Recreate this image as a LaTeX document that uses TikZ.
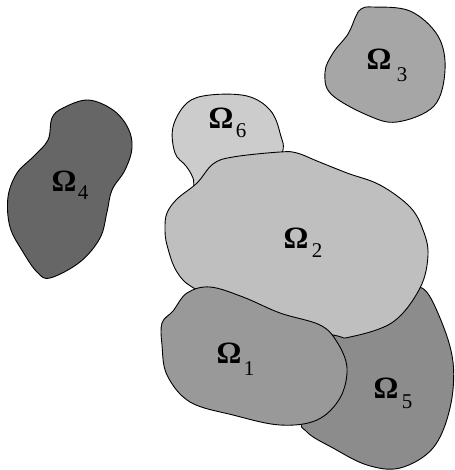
\documentclass[tikz,border=0pt]{standalone}
\usepackage{fontspec}
\setmainfont{Liberation Serif}
\begin{document}
\begin{tikzpicture}[x=1pt,y=-1pt,
  region/.style={draw=black,line width=0.9pt,line join=round},
  om/.style={anchor=base,inner sep=0pt,font=\fontsize{31}{31}\selectfont\bfseries},
  sub/.style={anchor=base,inner sep=0pt,font=\fontsize{21}{21}\selectfont}]
\useasboundingbox (0,0) rectangle (454,470);
% Omega 3
\filldraw[region,fill={rgb,255:red,166;green,166;blue,166}] plot[smooth cycle,tension=0.6] coordinates{
 (372,7) (410,11) (438,36) (445,70) (434,106) (397,122) (367,115) (331,94) (325,72) (333,53) (348,34) (356,16) (361,9)};
% Omega 4
\filldraw[region,fill={rgb,255:red,102;green,102;blue,102}] plot[smooth cycle,tension=0.6] coordinates{
 (88,100) (113,110) (128,128) (132,148) (125,170) (112,190) (107,212) (100,238) (80,262) (50,278) (37,272) (23,252) (10,227) (8,197) (17,173) (33,157) (48,140) (52,118) (63,108)};
% Omega 6
\filldraw[region,fill={rgb,255:red,204;green,204;blue,204}] plot[smooth cycle,tension=0.6] coordinates{
 (187,103) (210,95) (247,96) (270,110) (280,133) (281,156) (250,200) (200,200) (193,178) (186,166) (175,153) (173,127)};
% Omega 5
\filldraw[region,fill={rgb,255:red,140;green,140;blue,140}] plot[smooth cycle,tension=0.6] coordinates{
 (422,288) (440,318) (453,362) (450,408) (433,448) (400,468) (367,465) (333,448) (307,432) (303,415) (330,340) (400,300)};
% Omega 2
\filldraw[region,fill={rgb,255:red,191;green,191;blue,191}] plot[smooth cycle,tension=0.6] coordinates{
 (280,152) (233,157) (213,164) (197,183) (177,199) (167,213) (165,228) (167,245) (177,272) (197,290) (260,320) (333,335) (350,337) (393,322) (420,288) (428,255) (423,230) (410,207) (380,185) (347,173) (317,161) (297,153)};
% Omega 1
\filldraw[region,fill={rgb,255:red,153;green,153;blue,153}] plot[smooth cycle,tension=0.6] coordinates{
 (210,287) (187,293) (173,311) (162,323) (162,345) (167,375) (190,402) (233,415) (280,425) (317,420) (340,398) (347,368) (337,342) (320,325) (280,313) (243,297)};
% labels
\node[om] (o3) at (379,70) {Ω}; \node[sub] (s3) at (402,82) {3};
\node[om] (o6) at (221,129) {Ω}; \node[sub] (s6) at (241,138) {6};
\node[om] (o4) at (64,192) {Ω}; \node[sub] (s4) at (83,200) {4};
\node[om] (o2) at (296,248) {Ω}; \node[sub] (s2) at (317,257) {2};
\node[om] (o1) at (229,363) {Ω}; \node[sub] (s1) at (249,375) {1};
\node[om] (o5) at (386,398) {Ω}; \node[sub] (s5) at (407,408) {5};
\end{tikzpicture}
\end{document}
